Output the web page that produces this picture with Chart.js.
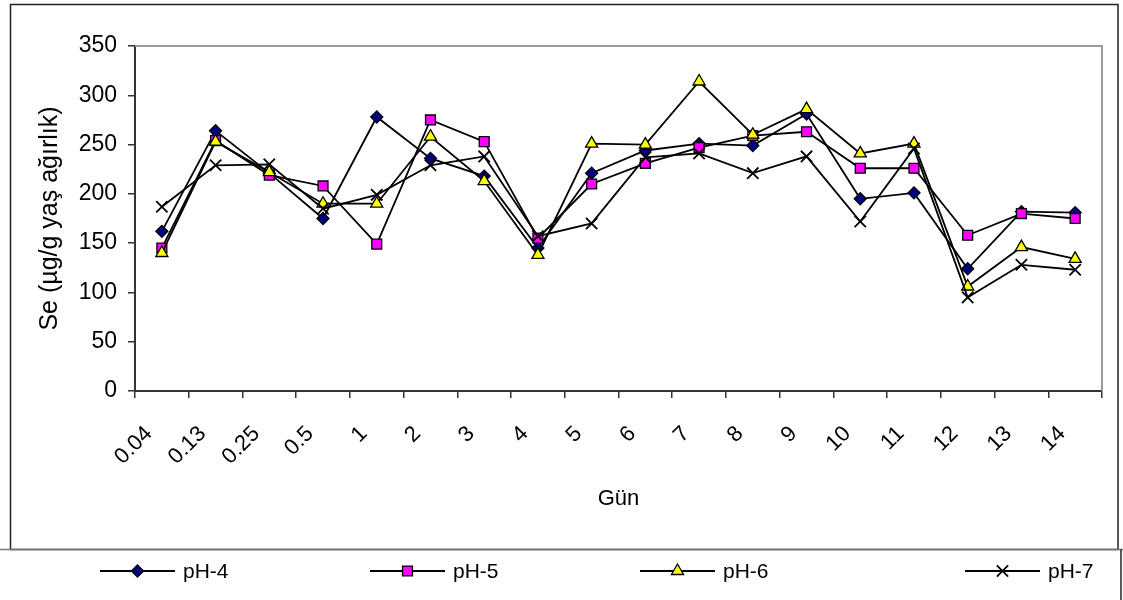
<!DOCTYPE html>
<html>
<head>
<meta charset="utf-8">
<script src="https://cdn.jsdelivr.net/npm/chart.js@4/dist/chart.umd.min.js"></script>
<style>
  html, body { margin: 0; padding: 0; background: #fff; }
  canvas { display: block; }
</style>
</head>
<body>
<canvas id="c" width="1123" height="600"></canvas>
<script>
// Sampling days
const days = ["0.04", "0.13", "0.25", "0.5", "1", "2", "3", "4", "5", "6", "7", "8", "9", "10", "11", "12", "13", "14"];

// Se concentration (µg/g wet weight) per pH level
const ph4 = [162, 264, 221, 175, 278, 236, 218, 145, 221, 244, 251, 249, 281, 195, 201, 124, 182, 181];
const ph5 = [145, 254, 219, 208, 149, 275, 253, 155, 210, 231, 247, 259, 263, 226, 226, 158, 180, 175];
const ph6 = [140, 253, 222, 190, 190, 258, 213, 138, 251, 250, 314, 260, 286, 241, 251, 106, 146, 134];
const ph7 = [187, 229, 230, 185, 199, 229, 238, 157, 170, 237, 241, 221, 238, 172, 246, 95, 128, 123];

const seriesNames = ["pH-4", "pH-5", "pH-6", "pH-7"];
const yTicks = [0, 50, 100, 150, 200, 250, 300, 350];

const FONT = "'Liberation Sans', Arial, sans-serif";

function series(label, data, style, fill, radius, order) {
  return {
    label, data, order,
    borderColor: '#000',
    borderWidth: 1.8,
    pointStyle: style,
    pointRadius: radius,
    pointHoverRadius: radius,
    pointBackgroundColor: fill,
    pointBorderColor: '#000',
    pointBorderWidth: style === 'crossRot' ? 1.8 : 1.3,
    tension: 0,
    fill: false
  };
}

// Frame around the chart and the plot area, plus the bottom legend row
const decorations = {
  id: 'decorations',
  afterDraw(chart) {
    const ctx = chart.ctx;
    const a = chart.chartArea;
    ctx.save();
    // plot area top and right edges
    ctx.strokeStyle = '#9a9a9a';
    ctx.lineWidth = 2;
    ctx.beginPath();
    ctx.moveTo(a.left, a.top);
    ctx.lineTo(a.right, a.top);
    ctx.lineTo(a.right, a.bottom);
    ctx.stroke();
    // outer chart frame
    ctx.strokeStyle = '#222';
    ctx.lineWidth = 1.5;
    ctx.strokeRect(10.5, 4.5, 1107.5, 545);
    // legend row separators
    ctx.strokeStyle = '#777';
    ctx.lineWidth = 1.5;
    ctx.beginPath();
    ctx.moveTo(0, 549.5);
    ctx.lineTo(1123, 549.5);
    ctx.stroke();
    ctx.strokeStyle = '#222';
    ctx.beginPath();
    ctx.moveTo(1121, 549.5);
    ctx.lineTo(1121, 600);
    ctx.stroke();

    // legend entries: line segment with marker, then label
    const starts = [100, 370, 640, 965];
    const y = 571;
    chart.data.datasets.forEach((ds, i) => {
      const x0 = starts[i];
      ctx.strokeStyle = '#000';
      ctx.lineWidth = ds.borderWidth;
      ctx.beginPath();
      ctx.moveTo(x0, y);
      ctx.lineTo(x0 + 75, y);
      ctx.stroke();
      ctx.fillStyle = ds.pointBackgroundColor;
      ctx.strokeStyle = ds.pointBorderColor;
      ctx.lineWidth = ds.pointBorderWidth;
      Chart.helpers.drawPoint(ctx, {
        pointStyle: ds.pointStyle,
        radius: ds.pointRadius,
        borderWidth: ds.pointBorderWidth,
        rotation: 0
      }, x0 + 37.5, y);
      ctx.fillStyle = '#000';
      ctx.font = '21px ' + FONT;
      ctx.textAlign = 'left';
      ctx.textBaseline = 'middle';
      ctx.fillText(ds.label, x0 + 83, y + 1);
    });
    ctx.restore();
  }
};

new Chart(document.getElementById('c'), {
  type: 'line',
  data: {
    labels: days,
    datasets: [
      series(seriesNames[0], ph4, 'rectRot', '#000080', 6, 4),
      series(seriesNames[1], ph5, 'rect', '#ff00ff', 7, 3),
      series(seriesNames[2], ph6, 'triangle', '#ffff00', 7, 2),
      series(seriesNames[3], ph7, 'crossRot', '#000', 8, 1)
    ]
  },
  options: {
    responsive: false,
    animation: false,
    devicePixelRatio: 1,
    layout: { padding: { left: 0, top: 46, right: 21, bottom: 88 } },
    plugins: {
      legend: { display: false },
      tooltip: { enabled: false }
    },
    scales: {
      x: {
        offset: true,
        grid: {
          offset: true,
          drawOnChartArea: false,
          drawTicks: true,
          tickLength: 7,
          color: '#333',
          lineWidth: 1.5
        },
        border: { color: '#333', width: 2 },
        ticks: {
          color: '#000',
          font: { family: FONT, size: 22 },
          minRotation: 45,
          maxRotation: 45,
          autoSkip: false,
          padding: 23,
          labelOffset: -13
        },
        title: {
          display: true,
          text: 'Gün',
          color: '#000',
          font: { family: FONT, size: 22 },
          padding: { top: 0, bottom: 0 }
        },
        afterFit(scale) { scale.height = 121; }
      },
      y: {
        min: 0,
        max: 350,
        afterBuildTicks(scale) { scale.ticks = yTicks.map(v => ({ value: v })); },
        grid: {
          drawOnChartArea: false,
          drawTicks: true,
          tickLength: 7,
          color: '#333',
          lineWidth: 1.5
        },
        border: { color: '#333', width: 2 },
        ticks: {
          color: '#000',
          font: { family: FONT, size: 23 },
          padding: 11
        },
        title: {
          display: true,
          text: 'Se (µg/g yaş ağırlık)',
          color: '#000',
          font: { family: FONT, size: 25 },
          padding: { top: 35, bottom: 0 }
        },
        afterFit(scale) { scale.width = 135; }
      }
    }
  },
  plugins: [decorations]
});
</script>
</body>
</html>
